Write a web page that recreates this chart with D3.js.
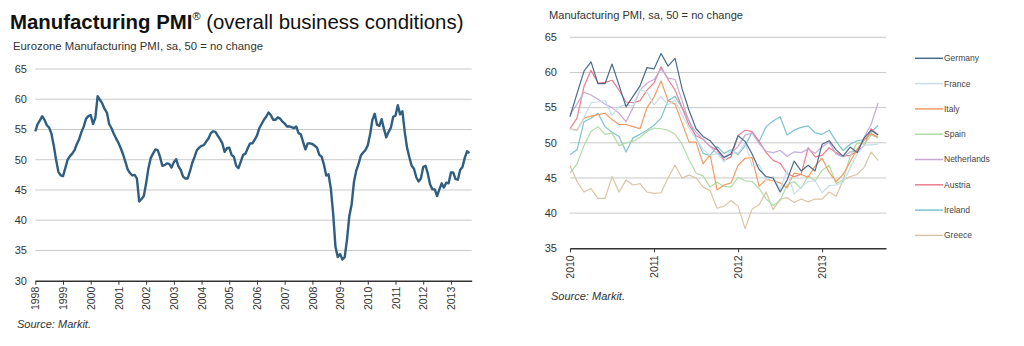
<!DOCTYPE html>
<html>
<head>
<meta charset="utf-8">
<script src="https://cdn.jsdelivr.net/npm/d3@7"></script>
<style>
  body { margin: 0; background: #fff; }
  svg { font-family: "Liberation Sans", Arial, sans-serif; }
</style>
</head>
<body>
<script>
// eurozone pmi, monthly from jan 1998
var ezStart = 1998;
var ezPmi = [
  54.7, 55.9, 56.5, 57.2, 56.6, 55.7, 55.3, 54.3, 52.3, 50.0, 48.0, 47.4,
  47.3, 48.6, 50.0, 50.6, 51.0, 51.6, 52.6, 53.4, 54.6, 55.5, 56.8, 57.2,
  57.4, 55.9, 56.9, 60.5, 59.9, 59.3, 58.4, 57.8, 55.9, 55.2, 54.3, 53.5,
  52.8, 51.9, 50.9, 49.7, 48.4, 47.8, 47.4, 47.5, 46.9, 43.1, 43.5, 44.0,
  46.1, 48.6, 50.3, 51.0, 51.7, 51.6, 50.5, 49.0, 49.1, 49.4, 49.3, 48.7,
  49.6, 50.1, 48.9, 48.3, 47.2, 46.9, 46.9, 48.1, 49.5, 50.5, 51.6, 52.0,
  52.3, 52.4, 53.0, 53.5, 54.4, 54.7, 54.6, 54.0, 53.4, 52.7, 51.3, 51.9,
  52.0, 50.8, 50.5, 49.0, 48.6, 49.7, 50.8, 51.0, 51.9, 52.7, 52.7, 53.3,
  54.0, 55.2, 55.9, 56.6, 57.1, 57.8, 57.4, 56.6, 56.6, 57.0, 56.8, 56.3,
  56.0, 55.5, 55.5, 55.4, 55.2, 55.5, 54.4, 54.2, 52.9, 51.7, 52.7, 52.7,
  52.6, 52.3, 52.0, 50.8, 50.5, 49.2, 47.4, 47.6, 45.2, 41.1, 35.6, 33.9,
  34.4, 33.5, 33.9, 36.8, 40.7, 42.6, 46.3, 48.2, 49.3, 50.7, 51.2, 51.6,
  52.4, 54.2, 56.6, 57.6, 55.8, 55.6, 56.7, 55.1, 53.7, 54.6, 55.3, 57.1,
  57.3, 59.0, 57.5, 58.0, 54.6, 52.0, 50.4, 49.0, 48.5, 47.1, 46.4, 46.9,
  48.8, 49.0, 47.7, 45.9, 45.1, 45.1, 44.0, 45.1, 46.1, 45.4, 46.2, 46.1,
  47.9, 47.9, 46.8, 46.7, 48.3, 48.8, 50.3, 51.4, 51.1
];
var ezYears = d3.range(1998, 2014);
var ezTicks = [30, 35, 40, 45, 50, 55, 60, 65];

// country pmis, monthly from jan 2010
var ctStart = 2010;
var countries = ["Germany", "France", "Italy", "Spain", "Netherlands", "Austria", "Ireland", "Greece"];
var germany = [
  53.7, 57.0, 60.2, 61.5, 58.4, 58.4, 61.2, 58.2, 55.1, 56.6, 58.1, 60.7,
  60.5, 62.7, 60.9, 62.0, 57.7, 54.6, 52.0, 50.9, 50.3, 49.1, 47.9, 48.4,
  51.0, 50.2, 48.4, 46.2, 45.2, 45.0, 43.0, 44.7, 47.4, 46.0, 46.8, 46.0,
  49.8, 50.3, 49.0, 48.1, 49.4, 48.6, 50.7, 51.8, 51.1
];
var france = [
  52.0, 51.7, 53.6, 55.7, 55.8, 56.0, 53.9, 55.1, 55.4, 55.2, 57.6, 57.2,
  55.4, 56.6, 55.4, 56.0, 54.0, 52.1, 50.5, 49.1, 48.2, 48.5, 47.3, 48.9,
  48.5, 50.0, 46.7, 46.9, 44.7, 45.2, 43.4, 46.0, 42.7, 43.7, 44.5, 44.6,
  42.9, 43.9, 44.0, 44.4, 46.4, 48.4, 49.7, 49.7, 49.8
];
var italy = [
  52.0, 51.8, 53.5, 53.8, 54.0, 54.2, 53.3, 52.6, 52.6, 52.3, 52.0, 55.0,
  56.5, 58.8, 56.0, 55.5, 52.8, 50.1, 50.1, 47.0, 48.3, 43.3, 44.0, 44.3,
  46.8, 47.8, 47.9, 43.8, 44.8, 44.6, 44.3, 43.6, 45.7, 45.5, 45.1, 46.7,
  47.8, 45.8, 44.5, 45.5, 47.3, 49.1, 50.4, 51.3, 50.8
];
var spain = [
  45.7, 47.0, 49.6, 51.6, 52.3, 51.2, 51.4, 49.6, 50.0, 50.2, 50.8, 51.6,
  52.1, 52.0, 51.8, 51.2, 49.8, 47.6, 45.7, 45.3, 43.7, 44.4, 43.8, 43.7,
  45.1, 44.6, 44.5, 43.5, 42.0, 41.1, 41.8, 44.0, 44.5, 43.5, 45.3, 44.6,
  46.1, 46.8, 44.2, 44.7, 48.1, 50.0, 49.8, 51.1, 50.7
];
var netherlands = [
  54.0, 55.5, 57.2, 56.8, 56.2, 55.5, 55.0, 54.2, 53.0, 55.0, 57.5, 58.5,
  59.0, 60.5, 59.2, 59.0, 56.0, 53.0, 51.5, 50.5, 49.5, 48.5, 48.0, 48.5,
  49.5, 51.1, 51.4, 49.9, 48.8, 48.6, 48.9, 48.1, 48.7, 48.6, 49.1, 48.5,
  49.4, 50.1, 48.4, 48.0, 48.7, 48.8, 50.8, 52.6, 55.7
];
var austria = [
  52.0, 53.5, 58.0, 60.3, 58.5, 58.6, 58.9, 57.5, 55.8, 55.7, 56.0, 57.5,
  58.5, 60.8, 59.0, 57.5, 55.0, 52.5, 51.0, 50.5, 49.5, 49.0, 47.5, 48.0,
  51.0, 51.8, 51.6, 50.2, 48.6, 47.5, 47.1, 45.6, 45.2, 45.5, 49.3, 48.0,
  48.2, 49.3, 48.6, 48.1, 48.2, 48.8, 49.6, 52.0, 51.1
];
var ireland = [
  48.3, 49.0, 53.0, 53.5, 54.2, 52.3, 51.5, 50.9, 48.7, 50.7, 51.2, 51.8,
  52.5, 53.5, 56.0, 56.6, 55.0, 53.2, 50.7, 48.5, 48.2, 49.5, 48.5, 49.0,
  48.3, 49.6, 51.5, 50.2, 52.3, 53.1, 53.7, 51.1, 51.8, 52.2, 52.4, 51.4,
  51.2, 51.8, 50.2, 48.9, 49.8, 50.3, 50.4, 51.5, 52.5
];
var greece = [
  46.8, 44.5, 43.0, 43.5, 42.1, 42.1, 45.2, 43.0, 44.7, 44.0, 44.2, 43.0,
  42.8, 42.9, 45.0, 46.8, 45.0, 45.4, 45.0, 43.7, 43.2, 40.7, 41.0, 41.8,
  41.0, 37.8, 40.6, 41.2, 43.0, 40.5, 42.0, 42.2, 41.5, 42.0, 41.6, 42.0,
  42.0, 43.0, 42.4, 44.7, 45.2, 45.5, 46.5, 48.7, 47.5
];
var ctSeries = [germany, france, italy, spain, netherlands, austria, ireland, greece];
var ctColors = ["#4b6c88", "#c6dee9", "#f19b62", "#b0dba6", "#c7a9d9", "#ea7f8f", "#7fc3cc", "#d9c5a5"];
var ctYears = [2010, 2011, 2012, 2013];
var ctTicks = [35, 40, 45, 50, 55, 60, 65];

var svg = d3.select("body").append("svg")
  .attr("width", 1024)
  .attr("height", 346);

// ---- headings
var title = svg.append("text")
  .attr("x", 10)
  .attr("y", 29)
  .attr("font-size", 20.4)
  .attr("fill", "#111");
title.append("tspan").attr("font-weight", "bold").text("Manufacturing PMI");
title.append("tspan").attr("font-size", 11).attr("dy", -9).text("®");
title.append("tspan").attr("dy", 9).text(" (overall business conditions)");

function subtitle(x, y, w, txt){
  svg.append("text")
    .attr("x", x).attr("y", y)
    .attr("font-size", 10)
    .attr("fill", "#333")
    .attr("textLength", w)
    .attr("lengthAdjust", "spacingAndGlyphs")
    .text(txt);
}
subtitle(13, 50, 250, "Eurozone Manufacturing PMI,  sa, 50 = no change");
subtitle(549, 19, 194, "Manufacturing PMI,  sa, 50 = no change");

function source(x, y){
  svg.append("text")
    .attr("x", x).attr("y", y)
    .attr("font-size", 11)
    .attr("font-style", "italic")
    .attr("fill", "#333")
    .text("Source: Markit.");
}
source(17, 328);
source(551, 300);

// shared chart builder
function draw_panel(opt){
  var g = svg.append("g");
  var x = d3.scaleLinear().domain(opt.xDomain).range(opt.xRange);
  var y = d3.scaleLinear().domain(opt.yDomain).range(opt.yRange);

  //gridlines
  g.append("g")
    .selectAll("line")
    .data(opt.yTicks.filter(function(d){ return d !== opt.yDomain[0]; }))
    .enter().append("line")
    .attr("x1", opt.xRange[0])
    .attr("x2", opt.xRange[1])
    .attr("y1", function(d){ return y(d); })
    .attr("y2", function(d){ return y(d); })
    .attr("stroke", "#c9c9c9")
    .attr("stroke-width", 1);

  //y labels
  g.append("g")
    .selectAll("text")
    .data(opt.yTicks)
    .enter().append("text")
    .attr("x", opt.yLabelX)
    .attr("y", function(d){ return y(d); })
    .attr("dy", "0.35em")
    .attr("text-anchor", "end")
    .attr("font-size", 11)
    .attr("fill", "#333")
    .text(function(d){ return d; });

  //x axis
  var xAxis = d3.axisBottom(x)
    .tickValues(opt.xTicks)
    .tickFormat(d3.format("d"))
    .tickSize(4)
    .tickSizeOuter(0);
  var ax = g.append("g")
    .attr("transform", "translate(0," + opt.yRange[0] + ")")
    .call(xAxis);
  ax.select(".domain").attr("stroke", "#333").attr("stroke-width", 1.5);
  ax.selectAll(".tick line").attr("stroke", "#333");
  ax.selectAll(".tick text")
    .attr("font-family", "Liberation Sans, Arial, sans-serif")
    .attr("font-size", 10.5)
    .attr("fill", "#333")
    .attr("transform", "rotate(-90)")
    .attr("text-anchor", "end")
    .attr("x", -opt.labelGap)
    .attr("y", 0)
    .attr("dy", "0.35em");

  //lines
  opt.series.forEach(function(s){
    var line = d3.line()
      .x(function(d, i){ return x(opt.start + i / 12); })
      .y(function(d){ return y(d); });
    g.append("path")
      .datum(s.values)
      .attr("fill", "none")
      .attr("stroke", s.color)
      .attr("stroke-width", s.width)
      .attr("stroke-linejoin", "round")
      .attr("d", line);
  });
  return g;
}

draw_panel({
  xDomain: [1998, 2013.75], xRange: [35.3, 471.7],
  yDomain: [30, 65], yRange: [280.7, 69],
  yTicks: ezTicks, xTicks: ezYears, yLabelX: 27,
  labelGap: 6, start: ezStart,
  series: [{values: ezPmi, color: "#2f5e80", width: 2.4}]
});

// draw back to front so germany sits on top
var ctList = countries.map(function(c, i){
  return {name: c, values: ctSeries[i], color: ctColors[i], width: 1.2};
}).reverse();

draw_panel({
  xDomain: [2010, 2013.76], xRange: [570, 886],
  yDomain: [35, 65], yRange: [248.3, 37.3],
  yTicks: ctTicks, xTicks: ctYears, yLabelX: 557,
  labelGap: 7, start: ctStart,
  series: ctList
});

//legend
var legend = svg.append("g")
  .selectAll("g")
  .data(countries)
  .enter().append("g")
  .attr("transform", function(d, i){ return "translate(915," + (58.3 + i * 25.3) + ")"; });
legend.append("line")
  .attr("x1", 0).attr("x2", 28)
  .attr("stroke", function(d, i){ return ctColors[i]; })
  .attr("stroke-width", 1.5);
legend.append("text")
  .attr("x", 29)
  .attr("dy", "0.35em")
  .attr("font-size", 8.5)
  .attr("fill", "#444")
  .text(function(d){ return d; });
</script>
</body>
</html>
